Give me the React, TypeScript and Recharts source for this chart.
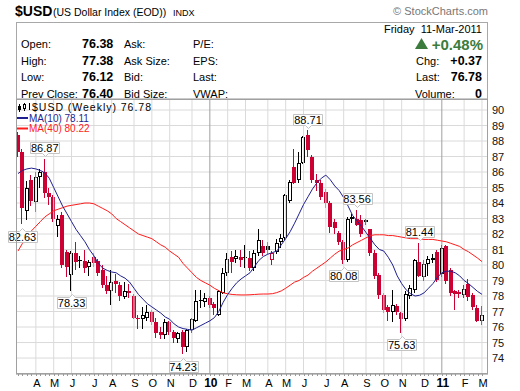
import React from 'react';
import {
  ComposedChart,
  Bar,
  Line,
  XAxis,
  YAxis,
  CartesianGrid,
  ReferenceLine,
  ReferenceDot,
} from 'recharts';

// weekly $USD candles, 13-Mar-2009 .. 11-Mar-2011
const opens = [
  88.4, 87.3, 83.5, 85.5, 84.05, 85.7, 86.0, 84.65, 84.4, 82.5,
  83.2, 80.85, 79.35, 80.8, 80.3, 80.25, 79.9, 80.5, 80.26, 79.7,
  78.7, 78.3, 79.0, 78.7, 77.95, 78.3, 78.0, 76.6, 76.55, 76.6,
  77.0, 76.35, 75.7, 75.5, 76.3, 75.7, 75.25, 75.7, 74.7, 75.8,
  76.4, 77.75, 77.6, 77.9, 77.5, 76.8, 78.2, 79.5, 80.5, 80.4,
  80.5, 80.5, 80.45, 79.8, 80.8, 81.2, 81.2, 80.35, 80.85, 81.5,
  81.75, 84.1, 86.3, 85.5, 86.6, 88.4, 87.0, 85.5, 85.3, 84.7,
  84.0, 82.8, 82.05, 81.5, 80.3, 83.0, 83.0, 82.9, 82.9, 82.3,
  80.8, 79.35, 78.05, 77.3, 77.0, 77.35, 76.9, 76.5, 78.0, 78.4,
  80.2, 79.2, 80.05, 80.3, 80.85, 79.4, 81.2, 79.7, 78.3, 78.25,
  78.05, 78.8, 78.05, 77.2, 76.38,
];
const highs = [
  88.6, 87.5, 85.4, 85.8, 86.0, 86.2, 86.87, 85.0, 84.5, 83.2,
  83.4, 81.0, 80.9, 81.5, 80.6, 81.0, 80.3, 80.8, 80.4, 80.0,
  79.3, 79.7, 79.4, 78.9, 78.9, 78.8, 78.1, 76.8, 77.3, 77.4,
  77.1, 76.6, 76.0, 76.5, 76.4, 75.8, 75.7, 75.8, 75.9, 76.6,
  78.4, 78.4, 78.2, 78.0, 77.6, 78.4, 79.8, 80.8, 80.9, 81.0,
  81.0, 81.3, 80.9, 81.0, 82.3, 81.6, 81.5, 80.9, 81.7, 82.0,
  84.6, 85.5, 87.5, 87.3, 88.3, 88.71, 87.1, 85.9, 85.5, 84.9,
  84.1, 83.0, 82.2, 81.6, 83.1, 83.3, 83.56, 83.2, 83.0, 82.3,
  81.0, 79.5, 78.2, 77.4, 78.4, 77.5, 77.0, 78.3, 78.7, 80.4,
  81.44, 80.3, 80.6, 80.7, 81.0, 81.3, 81.3, 79.8, 78.4, 78.4,
  78.7, 79.1, 78.2, 77.4, 77.38,
];
const lows = [
  87.0, 82.63, 82.9, 83.8, 83.4, 85.0, 84.3, 83.9, 82.8, 81.8,
  79.8, 79.2, 78.33, 79.7, 79.8, 79.5, 79.3, 79.9, 79.3, 78.5,
  78.1, 77.4, 78.2, 77.7, 77.8, 77.9, 76.5, 75.9, 75.9, 76.4,
  76.1, 75.3, 75.2, 75.2, 75.5, 75.0, 75.0, 74.23, 74.4, 75.6,
  76.3, 77.2, 77.3, 77.2, 76.8, 76.7, 78.1, 79.3, 79.5, 80.1,
  79.9, 79.8, 79.6, 79.6, 80.6, 80.6, 80.7, 80.0, 80.7, 81.1,
  81.6, 84.0, 85.2, 85.3, 86.5, 87.0, 85.3, 84.8, 84.2, 83.7,
  82.06, 82.0, 81.3, 80.08, 80.2, 82.7, 82.5, 81.8, 82.6, 80.6,
  79.1, 77.8, 76.9, 76.4, 76.3, 76.8, 75.63, 76.4, 77.8, 78.2,
  79.2, 79.0, 79.3, 80.1, 78.9, 79.2, 78.8, 78.0, 77.1, 77.9,
  77.9, 77.7, 77.1, 76.3, 76.12,
];
const closes = [
  87.3, 83.7, 85.0, 84.1, 85.7, 86.0, 84.65, 84.4, 83.0, 83.0,
  80.0, 79.9, 80.8, 80.2, 80.25, 79.8, 80.2, 80.1, 79.46, 78.7,
  78.3, 78.9, 78.75, 78.0, 78.35, 78.2, 76.6, 76.5, 76.77, 77.0,
  76.35, 75.6, 75.5, 76.3, 75.7, 75.3, 75.6, 74.7, 75.8, 76.5,
  77.7, 77.7, 77.9, 77.4, 77.2, 78.3, 79.5, 80.4, 80.2, 80.6,
  80.35, 80.45, 79.8, 80.8, 81.6, 80.8, 80.95, 80.8, 81.4, 81.75,
  84.5, 85.35, 85.3, 86.6, 88.26, 87.4, 85.5, 85.3, 84.4, 84.0,
  82.45, 82.4, 81.5, 80.3, 83.0, 83.1, 82.6, 82.0, 82.75, 80.8,
  79.3, 78.05, 77.1, 77.0, 77.4, 76.95, 76.5, 78.1, 78.5, 80.3,
  79.3, 80.05, 80.4, 80.45, 79.05, 81.1, 79.0, 78.2, 78.15, 78.1,
  78.45, 77.95, 77.3, 76.4, 76.78,
];
const ma10 = [
  85.9, 86.1, 86.2, 86.25, 86.2, 86.1, 85.95, 85.6, 85.0, 84.4,
  83.8, 83.3, 82.8, 82.3, 81.9, 81.5, 81.0, 80.6, 80.1, 79.8,
  79.65, 79.55, 79.5, 79.3, 79.15, 78.9, 78.5, 78.1, 77.8, 77.5,
  77.3, 77.1, 76.9, 76.65, 76.5, 76.2, 76.0, 75.9, 75.85, 75.8,
  75.95, 76.1, 76.25, 76.4, 76.6, 77.0, 77.6, 78.1, 78.5, 78.85,
  79.1, 79.3, 79.5, 79.9, 80.3, 80.55, 80.7, 80.8, 80.9, 81.3,
  81.7, 82.15, 82.7, 83.3, 83.9, 84.4, 84.9, 85.3, 85.6, 85.8,
  85.5, 85.1, 84.8, 84.35, 83.8, 83.2, 82.85, 82.5, 82.1, 81.7,
  81.3, 81.0, 80.9, 80.5, 80.0, 79.3, 78.8, 78.4, 78.15, 78.0,
  78.05, 78.2, 78.5, 78.8, 79.2, 79.5, 79.6, 79.6, 79.5, 79.3,
  79.0, 78.8, 78.55, 78.3, 78.11,
];
const ma40 = [
  80.9, 81.4, 81.85, 82.2, 82.5, 82.8, 83.1, 83.3, 83.5, 83.6,
  83.7, 83.8, 83.85, 83.9, 83.95, 84.0, 84.0, 83.95, 83.8, 83.65,
  83.5, 83.3, 83.0, 82.8, 82.6, 82.4, 82.2, 82.0, 81.9, 81.8,
  81.7, 81.5, 81.3, 81.15, 80.9, 80.7, 80.5, 80.1, 79.8, 79.5,
  79.2, 79.0, 78.85, 78.7, 78.5, 78.35, 78.2, 78.15, 78.1, 78.08,
  78.07, 78.07, 78.08, 78.1, 78.12, 78.13, 78.13, 78.15, 78.22, 78.33,
  78.5, 78.7, 78.9, 79.0, 79.2, 79.35, 79.6, 79.8, 80.0, 80.2,
  80.45, 80.7, 80.9, 81.0, 81.1, 81.3, 81.45, 81.6, 81.75, 81.9,
  81.95, 81.95, 81.95, 81.9, 81.9, 81.85, 81.8, 81.75, 81.7, 81.7,
  81.7, 81.65, 81.65, 81.65, 81.6, 81.55, 81.5, 81.4, 81.3, 81.2,
  81.0, 80.85, 80.65, 80.45, 80.22,
];

const monthTicks = [4, 8, 12, 17, 21, 26, 30, 34, 39, 43, 47, 51, 56, 60, 64, 69, 73, 78, 82, 86, 91, 95, 100, 104];
const monthLabels = ['A', 'M', 'J', 'J', 'A', 'S', 'O', 'N', 'D', '10', 'F', 'M', 'A', 'M', 'J', 'J', 'A', 'S', 'O', 'N', 'D', '11', 'F', 'M'];
const yearTicks = [43, 95];
const priceTicks = [74, 75, 76, 77, 78, 79, 80, 81, 82, 83, 84, 85, 86, 87, 88, 89, 90];

const noteIdx = [1, 6, 12, 37, 65, 73, 76, 86, 90];
const noteBelow = [true, false, true, true, false, true, false, true, false];

const RED = '#cc0033';
const FONT = '"Liberation Sans", Arial, sans-serif';

const data = opens.map((o, i) => ({
  i,
  range: [lows[i], highs[i]],
  open: o,
  high: highs[i],
  low: lows[i],
  close: closes[i],
  prev: i > 0 ? closes[i - 1] : o,
  ma10: ma10[i],
  ma40: ma40[i],
}));

function Candle(props: any) {
  const { x, y, width, height, payload } = props;
  if (!payload || height == null) return null;
  const top = Math.min(y, y + height);
  const h = Math.abs(height);
  const { open, close, high, low, prev } = payload;
  const k = h / (high - low);
  const py = (v: number) => top + (high - v) * k;
  const L = Math.round(x + width / 2 - 2);
  const color = close < prev ? RED : '#000';
  const hollow = close > open;
  const bt = Math.round(py(Math.max(open, close)));
  const bb = Math.round(py(Math.min(open, close)));
  const bh = Math.max(1, bb - bt);
  return (
    <g shapeRendering="crispEdges">
      <line x1={L + 1.5} x2={L + 1.5} y1={py(high)} y2={py(low)} stroke={color} strokeWidth={1} />
      {hollow ? (
        <rect x={L + 0.5} y={bt + 0.5} width={3} height={Math.max(1, bh - 1)} fill="#fff" stroke={color} strokeWidth={1} />
      ) : (
        <rect x={L} y={bt} width={4} height={bh} fill={color} />
      )}
    </g>
  );
}

function noteShape(value: number, below: boolean) {
  return (p: any) => {
    const w = 29;
    const hh = 11;
    const top = Math.round(below ? p.cy + 6.5 : p.cy - 16.5) + 0.5;
    const left = Math.round(p.cx - w / 2) + 0.5;
    const nx = Math.round(p.cx) + 0.5;
    const d = below
      ? `M${left},${top} H${nx - 3} L${nx},${top - 3} L${nx + 3},${top} H${left + w} V${top + hh} H${left} Z`
      : `M${left},${top} H${left + w} V${top + hh} H${nx + 3} L${nx},${top + hh + 3} L${nx - 3},${top + hh} H${left} Z`;
    return (
      <g>
        <path d={d} fill="#fff" stroke="#c4c4c4" strokeWidth={1} />
        <text x={p.cx} y={top + 9.5} textAnchor="middle" fontSize={11} fontFamily={FONT} fill="#000">
          {value.toFixed(2)}
        </text>
      </g>
    );
  };
}

function WeekTick(p: any) {
  const { x, y, payload } = p;
  const k = monthTicks.indexOf(payload.value);
  const px = Math.round(x) + 0.5;
  const isYear = k >= 0 && /\d/.test(monthLabels[k]);
  return (
    <g>
      <line x1={px} x2={px} y1={y} y2={y + 2} stroke="#999" />
      {k >= 0 && (
        <text x={x + 1} y={y + 13} textAnchor="middle" fontSize={isYear ? 12 : 11} fontWeight={isYear ? 'bold' : 'normal'} fontFamily={FONT} fill="#000">
          {monthLabels[k]}
        </text>
      )}
    </g>
  );
}

function PriceTick(p: any) {
  const { x, y, payload } = p;
  return (
    <text x={x + 4} y={y + 4} fontSize={11} fontFamily={FONT} fill="#111">
      {payload.value}
    </text>
  );
}

function Header() {
  const row = [48, 64.5, 81, 97.5];
  const t = (x: number, y: number, s: string, extra: any = {}) => (
    <text x={x} y={y} fontSize={11} fontFamily={FONT} fill="#000" {...extra}>{s}</text>
  );
  const b = { fontWeight: 'bold', fontSize: 12.5 };
  return (
    <svg width={520} height={391} style={{ position: 'absolute', left: 0, top: 0, pointerEvents: 'none' }}>
      <text x={15} y={16} fontSize={14} fontWeight="bold" fontFamily={FONT}>$USD</text>
      {t(53, 16, '(US Dollar Index (EOD))', { fontSize: 10.5 })}
      {t(173, 16, 'INDX', { fontSize: 9 })}
      {t(488, 15, '\u00a9 StockCharts.com', { textAnchor: 'end', fill: '#777' })}
      <rect x={16.5} y={22.5} width={471} height={76.5} fill="none" stroke="#a8a8a8" />
      <rect x={16.5} y={99.5} width={471} height={274} fill="none" stroke="#a0a0a0" />
      {t(482, 33, 'Friday  11-Mar-2011', { textAnchor: 'end', style: { whiteSpace: 'pre' } })}
      {t(21, row[0], 'Open:')}
      {t(21, row[1], 'High:')}
      {t(21, row[2], 'Low:')}
      {t(21, row[3], 'Prev Close:')}
      {t(82, row[0], '76.38', b)}
      {t(82, row[1], '77.38', b)}
      {t(82, row[2], '76.12', b)}
      {t(82, row[3], '76.40', b)}
      {t(124, row[0], 'Ask:')}
      {t(124, row[1], 'Ask Size:')}
      {t(124, row[2], 'Bid:')}
      {t(124, row[3], 'Bid Size:')}
      {t(193, row[0], 'P/E:')}
      {t(193, row[1], 'EPS:')}
      {t(193, row[2], 'Last:')}
      {t(193, row[3], 'VWAP:')}
      <polygon points="415,49 428,49 421.5,38" fill="#3b7b3b" />
      {t(483, 50, '+0.48%', { textAnchor: 'end', fontSize: 15, fontWeight: 'bold', fill: '#3b7b3b' })}
      {t(416, row[1], 'Chg:')}
      {t(416, row[2], 'Last:')}
      {t(415, row[3], 'Volume:')}
      {t(482, row[1], '+0.37', { ...b, textAnchor: 'end' })}
      {t(482, row[2], '76.78', { ...b, textAnchor: 'end' })}
      {t(482, row[3], '0', { ...b, textAnchor: 'end' })}
      <g shapeRendering="crispEdges">
        <line x1={19.5} x2={19.5} y1={104} y2={112} stroke="#000" />
        <rect x={18} y={106} width={3} height={4} fill="#000" />
        <line x1={24.5} x2={24.5} y1={103} y2={111} stroke="#000" />
        <rect x={23.5} y={104.5} width={2} height={4} fill="#fff" stroke="#000" />
        <line x1={29.5} x2={29.5} y1={103} y2={110} stroke="#000" />
      </g>
      {t(32, 111, '$USD (Weekly) 76.78', { fontSize: 10.5, textLength: 119 })}
      <line x1={17} x2={28} y1={118} y2={118} stroke="#1f1f8f" strokeWidth={2} />
      {t(29, 121.5, 'MA(10) 78.11', { fontSize: 10, fill: '#1f1f8f' })}
      <line x1={17} x2={28} y1={128.5} y2={128.5} stroke="#ff1a1a" strokeWidth={2} />
      {t(29, 132, 'MA(40) 80.22', { fontSize: 10, fill: '#ff1a1a' })}
    </svg>
  );
}

export default function App() {
  return (
    <div style={{ position: 'absolute', left: 0, top: 0, width: 520, height: 391, background: '#fff' }}>
      <ComposedChart width={520} height={391} data={data} margin={{ top: 99, right: 0, bottom: 0, left: 16 }}>
        <CartesianGrid vertical={false} stroke="#dadada" />
        {monthTicks.map((m) => (
          <ReferenceLine key={m} x={m} stroke={yearTicks.includes(m) ? '#a0a0a0' : '#dadada'} />
        ))}
        <XAxis
          dataKey="i"
          type="number"
          domain={[-0.45, 105.35]}
          ticks={data.map((d) => d.i)}
          interval={0}
          tick={<WeekTick />}
          tickLine={false}
          tickSize={0}
          tickMargin={0}
          axisLine={{ stroke: '#999' }}
          height={17}
          allowDataOverflow
        />
        <YAxis
          orientation="right"
          domain={[72.97, 90.71]}
          ticks={priceTicks}
          interval={0}
          tick={<PriceTick />}
          tickLine={false}
          tickSize={0}
          tickMargin={0}
          axisLine={false}
          width={32}
          allowDataOverflow
        />
        <Bar dataKey="range" barSize={4} shape={<Candle />} isAnimationActive={false} />
        <Line dataKey="ma40" type="linear" stroke="#ff1a1a" strokeWidth={1} dot={false} isAnimationActive={false} />
        <Line dataKey="ma10" type="linear" stroke="#1f1f8f" strokeWidth={1} dot={false} isAnimationActive={false} />
        {noteIdx.map((n, k) => (
          <ReferenceDot
            key={n}
            x={n}
            y={noteBelow[k] ? lows[n] : highs[n]}
            r={0}
            ifOverflow="visible"
            shape={noteShape(noteBelow[k] ? lows[n] : highs[n], noteBelow[k])}
          />
        ))}
      </ComposedChart>
      <Header />
    </div>
  );
}
